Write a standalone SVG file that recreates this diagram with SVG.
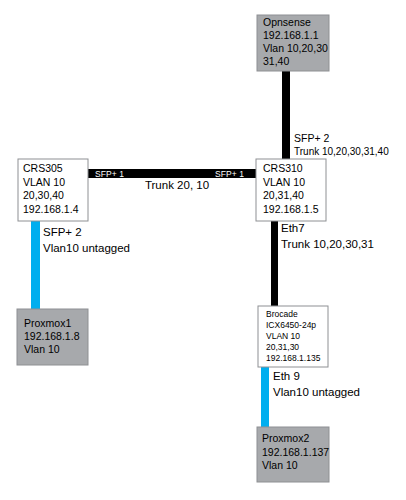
<svg xmlns="http://www.w3.org/2000/svg" width="406" height="500" viewBox="0 0 406 500">
<style>
text{font-family:"Liberation Sans",Arial,sans-serif;font-size:10.5px;fill:#000}
.gray{fill:#a7a9ac;stroke:#8e9093;stroke-width:1}
.white{fill:#fff;stroke:#8e9093;stroke-width:1}
.small{font-size:8.5px}
.port{font-size:8.5px;fill:#fff}
.lbl{font-size:11.5px}
.trk{font-size:10px}
</style>
<rect width="406" height="500" fill="#fff"/>
<g id="connectors">
<rect x="282" y="71" width="8" height="88" fill="#000"/>
<rect x="88" y="169" width="168" height="9" fill="#000"/>
<rect x="31" y="221" width="9" height="88" fill="#00aeef"/>
<rect x="271" y="221" width="7" height="85" fill="#000"/>
<rect x="261" y="367" width="8" height="60" fill="#00aeef"/>
<text x="294" y="142">SFP+ 2</text>
<text x="294" y="155" class="trk">Trunk 10,20,30,31,40</text>
<text class="port" x="95" y="176.5" textLength="29">SFP+ 1</text>
<text class="port" x="215" y="176.5" textLength="29">SFP+ 1</text>
<text x="177" y="189" text-anchor="middle" class="lbl">Trunk 20, 10</text>
<text class="lbl" x="43" y="236">SFP+ 2</text>
<text class="lbl" x="43" y="252">Vlan10 untagged</text>
<text class="lbl" x="281" y="232">Eth7</text>
<text class="lbl" x="281" y="248">Trunk 10,20,30,31</text>
<text class="lbl" x="273" y="380">Eth 9</text>
<text class="lbl" x="273" y="396">Vlan10 untagged</text>
</g>
<g id="opnsense">
<rect class="gray" x="257" y="15" width="72" height="56"/>
<text x="263" y="26">Opnsense</text>
<text x="263" y="39">192.168.1.1</text>
<text x="263" y="52">Vlan 10,20,30</text>
<text x="263" y="65">31,40</text>
</g>
<g id="crs305">
<rect class="white" x="18" y="159" width="70" height="62"/>
<text x="23" y="172">CRS305</text>
<text x="23" y="186">VLAN 10</text>
<text x="23" y="199">20,30,40</text>
<text x="23" y="213">192.168.1.4</text>
</g>
<g id="crs310">
<rect class="white" x="256" y="159" width="70" height="62"/>
<text x="263" y="172">CRS310</text>
<text x="263" y="186">VLAN 10</text>
<text x="263" y="199">20,31,40</text>
<text x="263" y="213">192.168.1.5</text>
</g>
<g id="proxmox1">
<rect class="gray" x="17" y="309" width="71" height="56"/>
<text x="24" y="327">Proxmox1</text>
<text x="24" y="340">192.168.1.8</text>
<text x="24" y="353">Vlan 10</text>
</g>
<g id="brocade">
<rect class="white" x="258" y="306" width="70" height="61"/>
<text class="small" x="266" y="317">Brocade</text>
<text class="small" x="266" y="328">ICX6450-24p</text>
<text class="small" x="266" y="339">VLAN 10</text>
<text class="small" x="266" y="350">20,31,30</text>
<text class="small" x="266" y="361">192.168.1.135</text>
</g>
<g id="proxmox2">
<rect class="gray" x="257" y="427" width="72" height="55"/>
<text x="262" y="442">Proxmox2</text>
<text x="262" y="456">192.168.1.137</text>
<text x="262" y="469">Vlan 10</text>
</g>
</svg>
